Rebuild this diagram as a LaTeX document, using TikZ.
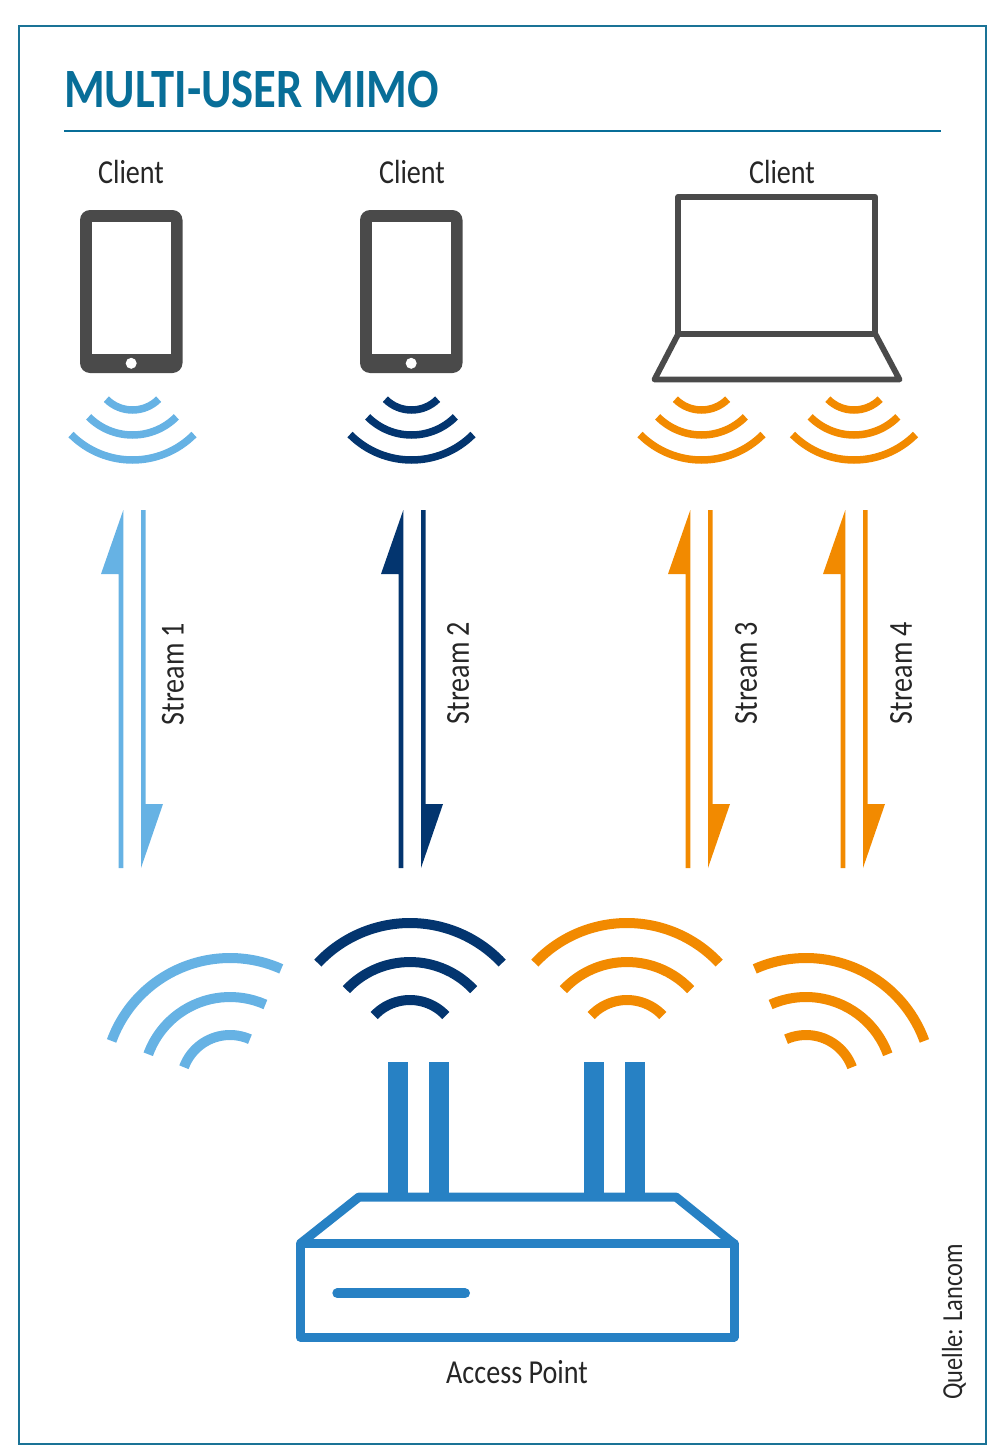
\documentclass[tikz,border=0pt]{standalone}
\usepackage{fontspec}
\setmainfont{Carlito}
\newfontfamily\narrowfont[FakeStretch=0.84]{Carlito}
\definecolor{frameC}{HTML}{1A7396}
\definecolor{titleC}{HTML}{086E98}
\definecolor{lightC}{HTML}{66B2E4}
\definecolor{darkC}{HTML}{03356F}
\definecolor{orangeC}{HTML}{F28A00}
\definecolor{apC}{HTML}{2781C4}
\definecolor{grayC}{HTML}{4A4A4A}
\tikzset{
  label text/.style={font=\narrowfont\fontsize{33.5}{36}\selectfont,text=black!85,inner sep=0pt},
  source text/.style={font=\narrowfont\fontsize{29}{32}\selectfont,text=black!85,inner sep=0pt},
  title text/.style={font=\narrowfont\fontsize{55.5}{60}\selectfont\bfseries,text=titleC,inner sep=0pt,anchor=west},
  client wave/.style={line width=7.5pt},
  ap wave/.style={line width=10pt},
  ap line/.style={apC,line width=9pt,line join=round},
  laptop line/.style={grayC,line width=5.8pt,line join=round},
}
\newcommand{\clientwaves}[2]{%
  \foreach \r in {37,62,87}{
    \draw[client wave,#2] ({#1+\r*cos(225)},{373-\r*sin(225)}) arc[start angle=-225,end angle=-315,radius=\r];
  }}
\newcommand{\apwaves}[5]{%
  \foreach \r in {49,87,126}{
    \draw[ap wave,#5] ({#1+\r*cos(#3)},{#2-\r*sin(#3)}) arc[start angle=-#3,end angle=-#4,radius=\r];
  }}
\newcommand{\streamarrows}[2]{%
  \fill[#2] ({#1+123.3},510)--({#1+123.3},868)--({#1+118.7},868)--({#1+118.7},574)--({#1+101},574)--cycle;
  \fill[#2] ({#1+141},510)--({#1+145.5},510)--({#1+145.5},804)--({#1+163},804)--({#1+141},868)--cycle;}
\newcommand{\tablet}[1]{%
  \fill[grayC,rounded corners=10pt] ({#1},210) rectangle ({#1+102.5},373);
  \fill[white] ({#1+11.5},221.5) rectangle ({#1+91},354.3);
  \fill[white] ({#1+51.2},363.3) circle[radius=5.5];}
\begin{document}
\begin{tikzpicture}[x=1pt,y=-1pt]
\useasboundingbox (0,0) rectangle (1000,1453);
\draw[frameC,line width=2pt] (18.5,26.5) rectangle (986,1443.5);
\node[title text] (title) at (64,90) {MULTI-USER MIMO};
\draw[titleC,line width=2pt] (64,131) -- (941,131);
\node[label text] (c1) at (131,172) {Client};
\node[label text] (c2) at (412,172) {Client};
\node[label text] (c3) at (782,172) {Client};
\tablet{80}
\tablet{360}
\draw[laptop line] (678.3,196.8) rectangle (875.2,333.8);
\draw[laptop line] (678.3,333.8) -- (654.5,379.5) -- (899.5,379.5) -- (875.2,333.8);
\clientwaves{132.5}{lightC}
\clientwaves{411.5}{darkC}
\clientwaves{701.5}{orangeC}
\clientwaves{854}{orangeC}
\streamarrows{0}{lightC}
\streamarrows{280}{darkC}
\streamarrows{567}{orangeC}
\streamarrows{722}{orangeC}
\node[label text,rotate=90] (s1) at (173,674) {Stream 1};
\node[label text,rotate=90] (s2) at (458,673) {Stream 2};
\node[label text,rotate=90] (s3) at (746,673) {Stream 3};
\node[label text,rotate=90] (s4) at (901,673) {Stream 4};
\apwaves{230}{1084}{66}{160}{lightC}
\apwaves{410}{1049}{43}{137}{darkC}
\apwaves{627}{1049}{43}{137}{orangeC}
\apwaves{806}{1084}{20}{114}{orangeC}
\fill[apC] (388,1062) rectangle (408,1197);
\fill[apC] (429,1062) rectangle (449,1197);
\fill[apC] (584,1062) rectangle (604,1197);
\fill[apC] (625,1062) rectangle (645,1197);
\draw[ap line] (300,1243.8) -- (359,1197) -- (676,1197) -- (734,1243.8);
\draw[ap line] (300,1243.8) rectangle (734,1337);
\draw[apC,line width=10pt,line cap=round] (337.3,1293.3) -- (465,1293.3);
\node[label text] (ap) at (517,1372) {Access Point};
\node[source text,rotate=90] (src) at (954,1322) {Quelle: Lancom};
\end{tikzpicture}
\end{document}
